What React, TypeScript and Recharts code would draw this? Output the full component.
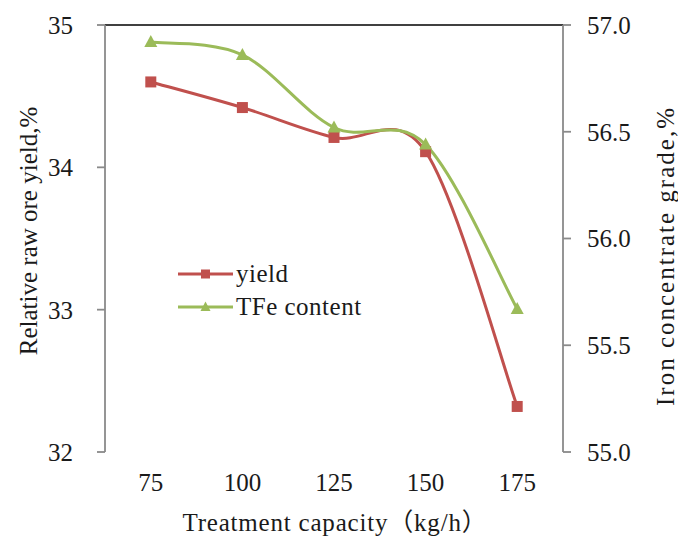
import { LineChart, Line, XAxis, YAxis, Legend, ReferenceLine } from 'recharts'

// values
const capacity = [75, 100, 125, 150, 175]
const yieldPct = [34.6, 34.42, 34.21, 34.11, 32.32]
const tfeGrade = [56.92, 56.86, 56.52, 56.44, 55.67]
const leftTicks = [32, 33, 34, 35]
const rightTicks = [55, 55.5, 56, 56.5, 57]

const data = capacity.map((c, i) => ({ capacity: c, yield: yieldPct[i], tfe: tfeGrade[i] }))

// category boundaries (Excel puts the tick marks between categories)
const half = (capacity[1] - capacity[0]) / 2
const edges = [...capacity.map((c) => c - half), capacity[capacity.length - 1] + half]

const RED = '#C0504D'
const GREEN = '#9BBB59'
const AXIS = '#8a8a8a'
const TEXT = '#1a1a1a'
const FONT = 'Liberation Serif'
const FS = 25

// Excel-like smoothed line (Catmull-Rom style bezier)
function excelCurve(context: any) {
  let pts: number[][] = []
  return {
    areaStart() {},
    areaEnd() {},
    lineStart() {
      pts = []
    },
    point(x: number, y: number) {
      pts.push([+x, +y])
    },
    lineEnd() {
      const n = pts.length
      if (!n) return
      context.moveTo(pts[0][0], pts[0][1])
      for (let i = 0; i < n - 1; i++) {
        const p0 = pts[Math.max(i - 1, 0)]
        const p1 = pts[i]
        const p2 = pts[i + 1]
        const p3 = pts[Math.min(i + 2, n - 1)]
        context.bezierCurveTo(
          p1[0] + (p2[0] - p0[0]) / 6,
          p1[1] + (p2[1] - p0[1]) / 6,
          p2[0] - (p3[0] - p1[0]) / 6,
          p2[1] - (p3[1] - p1[1]) / 6,
          p2[0],
          p2[1]
        )
      }
    },
  }
}

const squareDot = (props: any) => {
  const { cx, cy, index } = props
  return <rect key={`sq-${index}`} x={cx - 5.5} y={cy - 5.5} width={11} height={11} fill={RED} />
}

const triangleDot = (props: any) => {
  const { cx, cy, index } = props
  return (
    <path
      key={`tr-${index}`}
      d={`M${cx},${cy - 7} L${cx + 6.5},${cy + 5} L${cx - 6.5},${cy + 5} Z`}
      fill={GREEN}
    />
  )
}

const renderLegend = (props: any) => {
  const order = ['yield', 'tfe']
  const items = [...props.payload].sort((a: any, b: any) => order.indexOf(a.dataKey) - order.indexOf(b.dataKey))
  return (
    <svg width={220} height={70}>
      {items.map((item: any, i: number) => {
        const y = 19 + i * 33
        return (
          <g key={item.value}>
            <line x1={8} x2={63} y1={y} y2={y} stroke={item.color} strokeWidth={3} />
            {item.dataKey === 'yield' ? (
              <rect x={31} y={y - 4.5} width={9} height={9} fill={item.color} />
            ) : (
              <path d={`M35.5,${y - 5.5} L40.5,${y + 4} L30.5,${y + 4} Z`} fill={item.color} />
            )}
            <text x={66} y={y + 8} fontSize={FS} fontFamily={FONT} letterSpacing={0.5} fill={TEXT}>
              {item.value}
            </text>
          </g>
        )
      })}
    </svg>
  )
}

export default function App() {
  const tick = { fill: TEXT, fontSize: FS, fontFamily: FONT }
  return (
    <div style={{ position: 'absolute', left: 0, top: 0, background: '#fff' }}>
      <LineChart width={678} height={536} data={data} margin={{ top: 25, right: 0, bottom: 0, left: 0 }}>
        <XAxis
          xAxisId="edge"
          dataKey="capacity"
          type="number"
          domain={[edges[0], edges[edges.length - 1]]}
          ticks={edges}
          tickFormatter={() => ''}
          height={0}
          stroke={AXIS}
          strokeWidth={1.8}
          tickSize={8}
        />
        <XAxis
          xAxisId="lab"
          dataKey="capacity"
          type="number"
          domain={[edges[0], edges[edges.length - 1]]}
          ticks={capacity}
          height={84}
          axisLine={false}
          tickLine={false}
          tickSize={8}
          tickMargin={13}
          tick={tick}
          label={{
            content: () => (
              <text
                x={335}
                y={531}
                textAnchor="middle"
                fontSize={FS}
                fontFamily={`${FONT}, Noto Sans CJK SC`}
                letterSpacing={0.8}
                fill={TEXT}
              >
                Treatment capacity（kg/h）
              </text>
            ),
          }}
        />
        <YAxis
          yAxisId="left"
          domain={[32, 35]}
          ticks={leftTicks}
          width={105}
          stroke={AXIS}
          strokeWidth={1.8}
          tickSize={8}
          tickMargin={24}
          tick={tick}
          label={{
            content: () => (
              <text
                x={28}
                y={231}
                transform="rotate(-90, 28, 231)"
                textAnchor="middle"
                dominantBaseline="central"
                fontSize={FS}
                fontFamily={FONT}
                fill={TEXT}
              >
                Relative raw ore yield,%
              </text>
            ),
          }}
        />
        <YAxis
          yAxisId="right"
          orientation="right"
          domain={[55, 57]}
          ticks={rightTicks}
          width={115}
          stroke={AXIS}
          strokeWidth={1.8}
          tickSize={8}
          tickMargin={16}
          tick={tick}
          tickFormatter={(v: number) => v.toFixed(1)}
          label={{
            content: () => (
              <text
                x={665}
                y={256}
                transform="rotate(-90, 665, 256)"
                textAnchor="middle"
                dominantBaseline="central"
                fontSize={FS}
                fontFamily={FONT}
                letterSpacing={2}
                fill={TEXT}
              >
                Iron concentrate grade,%
              </text>
            ),
          }}
        />
        <ReferenceLine yAxisId="left" xAxisId="lab" y={35} stroke="#404040" strokeWidth={2} />
        <Legend
          layout="vertical"
          align="center"
          verticalAlign="middle"
          content={renderLegend}
          wrapperStyle={{ left: 170, top: 255, width: 220, height: 70 }}
        />
        <Line
          xAxisId="lab"
          yAxisId="left"
          dataKey="yield"
          name="yield"
          type={excelCurve as any}
          stroke={RED}
          strokeWidth={3}
          dot={squareDot}
          activeDot={false}
          isAnimationActive={false}
        />
        <Line
          xAxisId="lab"
          yAxisId="right"
          dataKey="tfe"
          name="TFe content"
          type={excelCurve as any}
          stroke={GREEN}
          strokeWidth={3}
          dot={triangleDot}
          activeDot={false}
          isAnimationActive={false}
        />
      </LineChart>
    </div>
  )
}
